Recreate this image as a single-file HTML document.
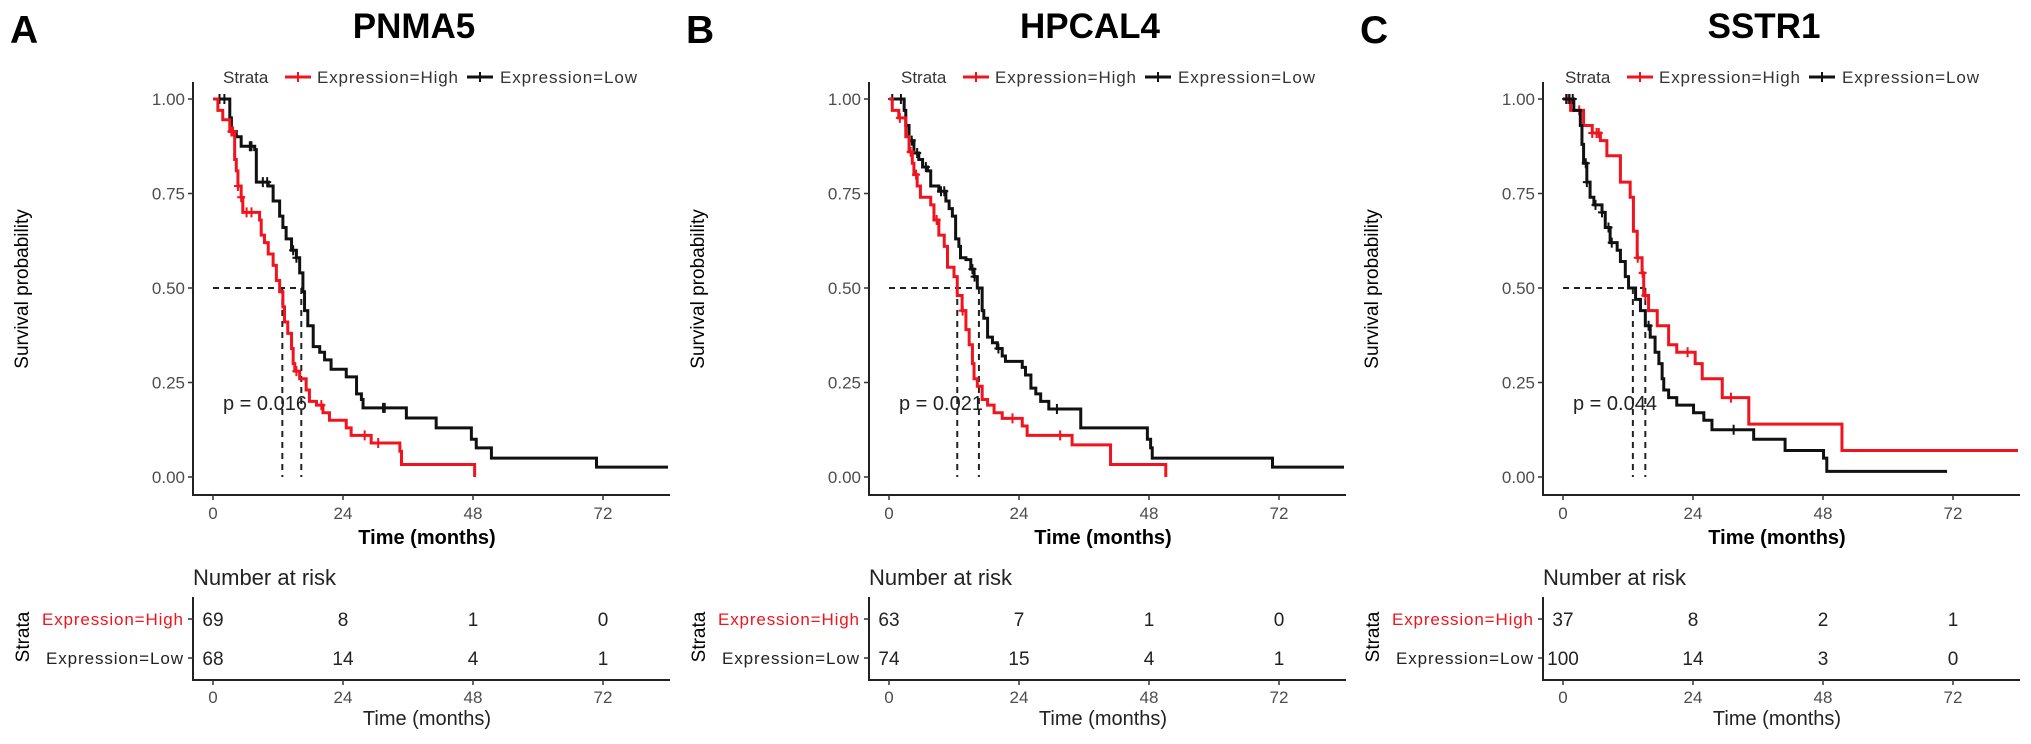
<!DOCTYPE html>
<html><head><meta charset="utf-8"><style>
html,body{margin:0;padding:0;background:#fff;}
svg{display:block;font-family:"Liberation Sans",Arial,sans-serif;}
</style></head><body>
<svg id="fig" width="2031" height="744" viewBox="0 0 2031 744" xmlns="http://www.w3.org/2000/svg"></svg>
<script>
// ---------- data ----------
const panelLetters = ["A","B","C"];
const panelTitles = ["PNMA5","HPCAL4","SSTR1"];
const pValues = ["p = 0.016","p = 0.021","p = 0.044"];
const xTicks = [0,24,48,72];
const yTicks = [0,0.25,0.5,0.75,1];
const yTickLabels = ["0.00","0.25","0.50","0.75","1.00"];

// Panel A
const aHighT = [0,0.9,1.8,3.1,4.0,4.3,4.6,5.2,5.5,8.6,8.9,9.5,10.2,11.1,11.7,12.3,12.9,13.2,13.8,14.5,14.8,15.1,16.0,17.2,17.8,19.1,20.3,21.5,24.6,25.5,29.2,34.5,34.8,35.4,48.3];
const aHighS = [1,0.97,0.945,0.914,0.84,0.81,0.77,0.74,0.70,0.68,0.64,0.62,0.59,0.56,0.52,0.49,0.45,0.41,0.38,0.34,0.30,0.28,0.26,0.23,0.20,0.19,0.17,0.15,0.13,0.11,0.09,0.068,0.033,0.033,0];
const aLowT = [0,3.1,3.4,4.3,5.2,7.7,8.0,10.2,11.1,12.3,12.9,13.5,14.5,15.4,16.0,16.6,16.9,17.5,18.5,19.7,20.6,21.8,24.6,26.5,27.4,27.7,35.7,41.2,47.7,48.6,51.4,70.8];
const aLowS = [1,0.95,0.914,0.90,0.875,0.866,0.78,0.77,0.73,0.69,0.66,0.63,0.60,0.58,0.54,0.49,0.44,0.40,0.345,0.33,0.31,0.285,0.265,0.22,0.205,0.183,0.156,0.13,0.10,0.077,0.05,0.026];
const aEnd = [48.3, 84];
const aMedians = [12.8, 16.3];
const aCensHigh = [3.4,3.7,4.6,5.2,6.2,7.1,15.4,20.0,28.0,30.5];
const aCensLow = [1.2,2.1,6.8,7.1,9.2,10.0,14.8,15.4,31.4,31.7];
const aRiskHigh = [69,8,1,0];
const aRiskLow = [68,14,4,1];

// Panel B
const bHighT = [0,0.6,1.8,3.1,3.7,4.3,4.6,5.2,5.8,7.7,8.3,9.2,10.2,10.8,12.0,12.6,13.5,14.2,14.8,15.4,15.7,16.3,17.2,18.2,19.4,20.9,24.6,25.5,33.8,40.9,51.1];
const bHighS = [1,0.97,0.95,0.90,0.86,0.83,0.80,0.77,0.74,0.72,0.68,0.64,0.61,0.555,0.53,0.48,0.44,0.39,0.35,0.30,0.26,0.24,0.205,0.19,0.17,0.155,0.135,0.11,0.085,0.033,0];
const bLowT = [0,2.8,3.1,3.7,4.6,5.5,6.2,7.1,7.7,9.2,10.5,11.1,11.7,12.3,12.9,13.2,14.2,15.1,15.7,16.3,17.2,17.5,18.2,19.1,20.0,20.9,21.5,24.6,25.2,26.2,27.1,28.0,29.5,35.4,47.7,48.3,48.6,70.8];
const bLowS = [1,0.97,0.93,0.89,0.857,0.84,0.82,0.81,0.77,0.756,0.73,0.71,0.69,0.63,0.61,0.58,0.575,0.55,0.53,0.50,0.44,0.42,0.37,0.355,0.34,0.32,0.306,0.29,0.27,0.235,0.22,0.20,0.18,0.13,0.10,0.077,0.05,0.026];
const bEnd = [51.1, 84];
const bMedians = [12.6, 16.6];
const bCensHigh = [2.0,4.0,5.0,8.8,13.6,22.8,31.6];
const bCensLow = [0.6,2.2,4.2,5.2,6.8,9.6,10.2,15.4,15.8,20.2,31.0];
const bRiskHigh = [63,7,1,0];
const bRiskLow = [74,15,4,1];

// Panel C
const cHighT = [0,1.4,3.8,5.4,6.9,8.1,10.6,12.4,13.0,13.7,14.6,14.9,15.8,17.4,19.5,21.0,24.4,25.7,29.4,34.3,51.5];
const cHighS = [1,0.97,0.93,0.91,0.89,0.85,0.78,0.74,0.65,0.58,0.54,0.48,0.44,0.40,0.35,0.33,0.30,0.26,0.21,0.14,0.07];
const cLowT = [0,2.0,3.2,3.5,3.8,4.4,5.0,5.7,7.2,7.8,8.7,10.0,10.6,11.5,12.1,13.4,14.3,15.2,16.1,17.0,17.7,18.3,18.6,19.5,21.0,24.1,26.0,27.5,35.2,41.0,48.1,48.7];
const cLowS = [1,0.97,0.93,0.88,0.83,0.78,0.74,0.72,0.70,0.66,0.62,0.60,0.57,0.53,0.50,0.47,0.44,0.40,0.37,0.33,0.30,0.26,0.23,0.21,0.19,0.17,0.15,0.125,0.10,0.07,0.05,0.015];
const cEnd = [84, 70.9];
const cMedians = [12.9, 15.2];
const cCensHigh = [1.0,3.0,5.4,6.2,6.6,13.8,14.7,15.2,23.0,31.0];
const cCensLow = [0.6,1.2,1.8,4.2,4.4,6.0,7.2,8.4,9.0,15.8,31.5];
const cRiskHigh = [37,8,2,1];
const cRiskLow = [100,14,3,0];

const panels = [
  {ox:0,   hT:aHighT,hS:aHighS,lT:aLowT,lS:aLowS,end:aEnd,med:aMedians,cH:aCensHigh,cL:aCensLow,rH:aRiskHigh,rL:aRiskLow},
  {ox:676, hT:bHighT,hS:bHighS,lT:bLowT,lS:bLowS,end:bEnd,med:bMedians,cH:bCensHigh,cL:bCensLow,rH:bRiskHigh,rL:bRiskLow},
  {ox:1350,hT:cHighT,hS:cHighS,lT:cLowT,lS:cLowS,end:cEnd,med:cMedians,cH:cCensHigh,cL:cCensLow,rH:cRiskHigh,rL:cRiskLow}
];

// ---------- drawing ----------
const NS = "http://www.w3.org/2000/svg";
const svg = document.getElementById("fig");
function mk(tag, attrs, parent, text){
  const e = document.createElementNS(NS, tag);
  for (const k in attrs) e.setAttribute(k, attrs[k]);
  if (text !== undefined) e.textContent = text;
  (parent||svg).appendChild(e);
  return e;
}
const RED = "#f0141e", DARK = "#111", GREY = "#4d4d4d";

panels.forEach((p, i) => {
  const ox = p.ox;
  const g = mk("g", {});
  
  
  const xs = t => ox + 213 + t * 130 / 24;
  const ys = s => 477 - s * 378;

  const letter = mk("text", {x: ox + 10, y: 43, "font-size": 39, "font-weight": "bold", fill: "#000"}, g, panelLetters[i]);
  
  
  const title = mk("text", {x: ox + 414, y: 38, "font-size": 35, "font-weight": "bold", "text-anchor": "middle", fill: "#000"}, g, panelTitles[i]);
  
  

  // legend
  const lg = mk("g", {}, g);
  
  
  const lx = ox + 223 + (i === 1 ? 2 : (i === 2 ? -8 : 0));
  mk("text", {x: lx, y: 83, "font-size": 17, fill: "#333"}, lg, "Strata");
  mk("line", {x1: lx + 62, x2: lx + 88, y1: 77, y2: 77, stroke: RED, "stroke-width": 3}, lg);
  mk("line", {x1: lx + 75, x2: lx + 75, y1: 72, y2: 82, stroke: RED, "stroke-width": 2}, lg);
  const le1 = mk("text", {x: lx + 94, y: 83, "font-size": 17, fill: "#333", textLength: 141}, lg, "Expression=High");
  
  
  mk("line", {x1: lx + 244, x2: lx + 270, y1: 77, y2: 77, stroke: DARK, "stroke-width": 3}, lg);
  mk("line", {x1: lx + 257, x2: lx + 257, y1: 72, y2: 82, stroke: DARK, "stroke-width": 2}, lg);
  const le2 = mk("text", {x: lx + 277, y: 83, "font-size": 17, fill: "#333", textLength: 137}, lg, "Expression=Low");
  
  

  // axes
  const ya = mk("line", {x1: ox + 193, x2: ox + 193, y1: 82, y2: 496, stroke: "#222", "stroke-width": 2}, g);
  
  
  const xa = mk("line", {x1: ox + 192, x2: ox + 670, y1: 495, y2: 495, stroke: "#222", "stroke-width": 2}, g);
  
  
  yTicks.forEach((v, k) => {
    mk("line", {x1: ox + 188, x2: ox + 193, y1: ys(v), y2: ys(v), stroke: "#333", "stroke-width": 1.5}, g);
    const t = mk("text", {x: ox + 185, y: ys(v) + 6, "font-size": 17, "text-anchor": "end", fill: GREY}, g, yTickLabels[k]);
    
    
  });
  xTicks.forEach(v => {
    mk("line", {x1: xs(v), x2: xs(v), y1: 495, y2: 500, stroke: "#333", "stroke-width": 1.5}, g);
    const t = mk("text", {x: xs(v), y: 519, "font-size": 17, "text-anchor": "middle", fill: GREY}, g, String(v));
    
    
  });
  const xt = mk("text", {x: ox + 427, y: 544, "font-size": 20, "font-weight": "bold", "text-anchor": "middle", fill: "#000"}, g, "Time (months)");
  
  
  const yt = mk("text", {x: 0, y: 0, "font-size": 19, "text-anchor": "middle", fill: "#000", transform: `translate(${ox + 28},289) rotate(-90)`}, g, "Survival probability");
  
  

  // median dashed lines
  const mMax = Math.max(...p.med);
  const hd = mk("line", {x1: xs(0), x2: xs(mMax), y1: ys(0.5), y2: ys(0.5), stroke: "#222", "stroke-width": 2, "stroke-dasharray": "6,5"}, g);
  
  
  p.med.forEach(m => {
    const vd = mk("line", {x1: xs(m), x2: xs(m), y1: ys(0.5), y2: ys(0), stroke: "#222", "stroke-width": 2, "stroke-dasharray": "6,5"}, g);
    
    
  });

  function stepPath(T, S, end){
    let d = `M${xs(T[0])},${ys(S[0])}`;
    for (let k = 1; k < T.length; k++) d += `H${xs(T[k])}V${ys(S[k])}`;
    if (end > T[T.length - 1]) d += `H${xs(end)}`;
    return d;
  }
  function survAt(T, S, t){ let s = S[0]; for (let k = 0; k < T.length; k++) if (T[k] <= t) s = S[k]; return s; }
  const series = [
    {T: p.lT, S: p.lS, end: p.end[1], c: DARK, cens: p.cL, name: "curve-low"},
    {T: p.hT, S: p.hS, end: p.end[0], c: RED, cens: p.cH, name: "curve-high"}
  ];
  if (i === 2) series.reverse();
  series.forEach(s => {
    const path = mk("path", {d: stepPath(s.T, s.S, s.end), fill: "none", stroke: s.c, "stroke-width": 3}, g);
    
    
    s.cens.forEach(t => {
      const y = ys(survAt(s.T, s.S, t)), x = xs(t);
      const cm = mk("path", {d: `M${x - 4},${y}H${x + 4}M${x},${y - 5}V${y + 5}`, stroke: s.c, "stroke-width": 2}, g);
      
      
    });
  });

  const pv = mk("text", {x: ox + 223, y: 410, "font-size": 20, fill: "#222"}, g, pValues[i]);
  
  

  // risk table
  const rt = mk("g", {}, g);
  
  
  mk("text", {x: ox + 193, y: 585, "font-size": 22, fill: "#222"}, rt, "Number at risk");
  mk("line", {x1: ox + 193, x2: ox + 193, y1: 597, y2: 681, stroke: "#222", "stroke-width": 2}, rt);
  mk("line", {x1: ox + 192, x2: ox + 670, y1: 680, y2: 680, stroke: "#222", "stroke-width": 2}, rt);
  mk("text", {x: ox + 183, y: 625, "font-size": 17, "text-anchor": "end", fill: RED, textLength: 141}, rt, "Expression=High");
  mk("text", {x: ox + 183, y: 664, "font-size": 17, "text-anchor": "end", fill: "#222", textLength: 137}, rt, "Expression=Low");
  mk("line", {x1: ox + 188, x2: ox + 193, y1: 619, y2: 619, stroke: "#333", "stroke-width": 1.5}, rt);
  mk("line", {x1: ox + 188, x2: ox + 193, y1: 658, y2: 658, stroke: "#333", "stroke-width": 1.5}, rt);
  mk("text", {x: 0, y: 0, "font-size": 19, "text-anchor": "middle", fill: "#000", transform: `translate(${ox + 29},637) rotate(-90)`}, rt, "Strata");
  xTicks.forEach((v, k) => {
    const a = mk("text", {x: xs(v), y: 626, "font-size": 19, "text-anchor": "middle", fill: "#222"}, rt, String(p.rH[k]));
    
    
    const b = mk("text", {x: xs(v), y: 665, "font-size": 19, "text-anchor": "middle", fill: "#222"}, rt, String(p.rL[k]));
    
    
    mk("line", {x1: xs(v), x2: xs(v), y1: 680, y2: 685, stroke: "#333", "stroke-width": 1.5}, rt);
    mk("text", {x: xs(v), y: 703, "font-size": 17, "text-anchor": "middle", fill: GREY}, rt, String(v));
  });
  mk("text", {x: ox + 427, y: 725, "font-size": 20, "text-anchor": "middle", fill: "#222"}, rt, "Time (months)");
});
</script>
</body></html>
